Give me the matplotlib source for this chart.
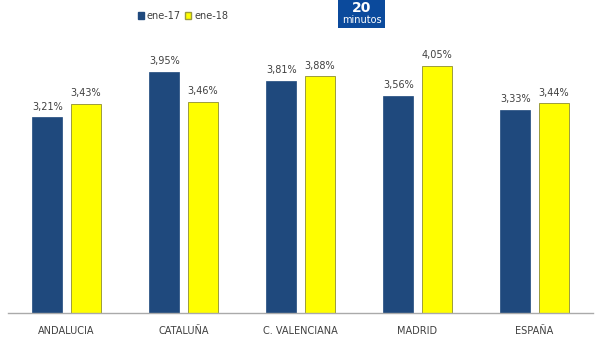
import matplotlib
matplotlib.use("Agg")
import matplotlib.pyplot as plt
import numpy as np
from matplotlib.patches import Rectangle, Patch

categories = ["ANDALUCIA", "CATALUÑA", "C. VALENCIANA", "MADRID", "ESPAÑA"]
ene17 = [3.21, 3.95, 3.81, 3.56, 3.33]
ene18 = [3.43, 3.46, 3.88, 4.05, 3.44]
series_names = ["ene-17", "ene-18"]

blue = "#1F497D"
yellow = "#FFFF00"
yedge = "#9C9C3C"
txt = "#404040"

fig = plt.figure(figsize=(6, 3.38), dpi=100)
ax = fig.add_axes([8/600, 25/338, 585/600, 313/338])
x = np.arange(len(categories))
w = 0.26
off = 0.165
b1 = ax.bar(x - off, ene17, w, color=blue, edgecolor=blue, linewidth=0.5)
b2 = ax.bar(x + off, ene18, w, color=yellow, edgecolor=yedge, linewidth=0.7)
for bars, vals in ((b1, ene17), (b2, ene18)):
    for r, v in zip(bars, vals):
        ax.annotate(f"{v:.2f}%".replace(".", ","), (r.get_x() + r.get_width()/2, v),
                    xytext=(0, 4), textcoords="offset points", ha="center", va="bottom",
                    fontsize=7, color=txt)
ax.set_xlim(-0.5, len(categories) - 0.5)
ax.set_ylim(0, 5.13)
ax.set_xticks(x)
ax.set_xticklabels(categories, fontsize=7, color=txt)
ax.tick_params(axis="x", length=0, pad=9)
ax.set_yticks([])
for s in ("top", "left", "right"):
    ax.spines[s].set_visible(False)
ax.spines["bottom"].set_color("#AAAAAA")
ax.spines["bottom"].set_linewidth(1)

handles = [Patch(facecolor=blue, edgecolor=blue), Patch(facecolor=yellow, edgecolor=yedge)]
fig.legend(handles, series_names, loc="center", bbox_to_anchor=(183/600, 1 - 16/338),
           ncol=2, frameon=False, fontsize=7, handlelength=0.6, handleheight=0.6,
           handletextpad=0.3, columnspacing=0.5, labelcolor=txt)

fig.patches.append(Rectangle((338/600, 1 - 28/338), 47/600, 28/338, transform=fig.transFigure,
                             facecolor="#0B4A9C", edgecolor="none"))
fig.text(361.5/600, 1 - 1/338, "20", ha="center", va="top", color="white",
         fontsize=10, fontweight="bold")
fig.text(361.5/600, 1 - 20/338, "minutos", ha="center", va="center", color="white",
         fontsize=7)

fig.savefig("out.png", dpi=100)
